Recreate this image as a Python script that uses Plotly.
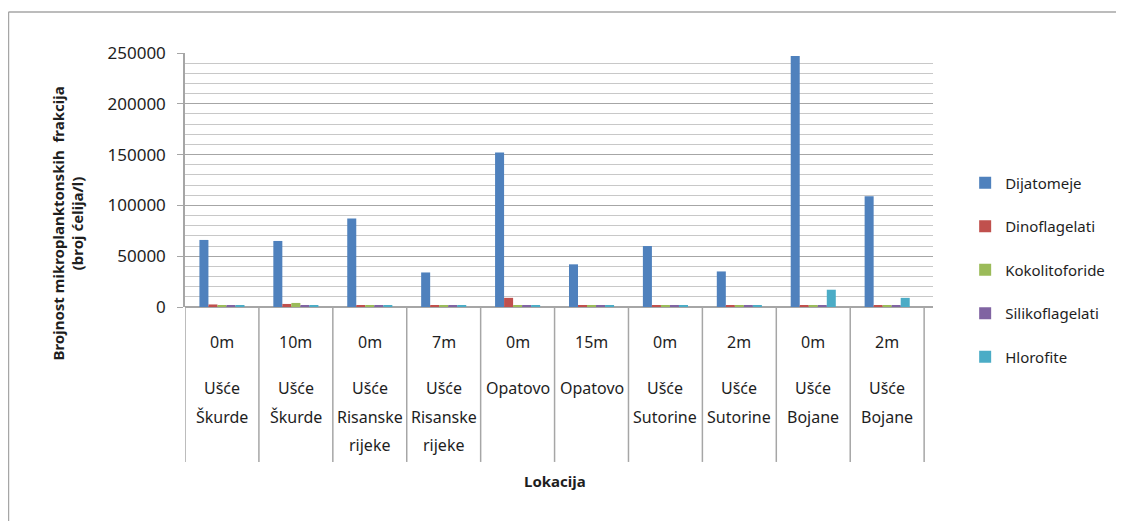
import plotly.graph_objects as go

depths = ["0m", "10m", "0m", "7m", "0m", "15m", "0m", "2m", "0m", "2m"]
locations = [["Ušće", "Škurde"], ["Ušće", "Škurde"], ["Ušće", "Risanske", "rijeke"], ["Ušće", "Risanske", "rijeke"],
             ["Opatovo"], ["Opatovo"], ["Ušće", "Sutorine"], ["Ušće", "Sutorine"], ["Ušće", "Bojane"], ["Ušće", "Bojane"]]
series_names = ["Dijatomeje", "Dinoflagelati", "Kokolitoforide", "Silikoflagelati", "Hlorofite"]
dijatomeje = [66000, 65000, 87000, 34000, 152000, 42000, 60000, 35000, 247000, 109000]
dinoflagelati = [2500, 3000, 1500, 2000, 9000, 2000, 1500, 1500, 1500, 1500]
kokolitoforide = [1500, 4000, 1000, 1500, 1500, 1500, 1500, 2000, 1500, 1500]
silikoflagelati = [1000, 1500, 1000, 1000, 1000, 1000, 1000, 1000, 1000, 1000]
hlorofite = [1000, 1500, 1000, 1000, 1000, 1000, 1000, 1000, 17000, 9000]
colors = ["#4F81BD", "#C0504D", "#9BBB59", "#8064A2", "#4BACC6"]
y_ticks = [0, 50000, 100000, 150000, 200000, 250000]

values = [dijatomeje, dinoflagelati, kokolitoforide, silikoflagelati, hlorofite]
xidx = list(range(len(depths)))
FONT = "Noto Sans"
TXT = "#1e1e1e"

fig = go.Figure()
for i, (name, vals) in enumerate(zip(series_names, values)):
    fig.add_trace(go.Bar(
        x=xidx, y=vals, name=name,
        marker=dict(color=colors[i], line=dict(width=0)),
        legendgroup=name,
    ))

# category labels: depth + location lines
line_y = [-0.3189, -0.4331, -0.5433]
for i in xidx:
    fig.add_annotation(x=i, y=-0.1378, xref="x", yref="paper", text=depths[i], showarrow=False,
                       font=dict(size=16, color=TXT, family=FONT), xanchor="center", yanchor="middle")
    for j, part in enumerate(locations[i]):
        fig.add_annotation(x=i, y=line_y[j], xref="x", yref="paper", text=part, showarrow=False,
                           font=dict(size=16, color=TXT, family=FONT), xanchor="center", yanchor="middle")

# category separators
for k in range(len(depths) + 1):
    fig.add_shape(type="line", xref="x", yref="paper", x0=k - 0.5, x1=k - 0.5,
                  y0=0, y1=-0.610, line=dict(color="#a6a6a6", width=1.5))

# outer frame (top and left edges visible)
fig.add_shape(type="line", xref="paper", yref="paper", x0=-0.236, x1=1.26, y0=1.1614, y1=1.1614,
              line=dict(color="#a6a6a6", width=1.5))
fig.add_shape(type="line", xref="paper", yref="paper", x0=-0.236, x1=-0.236, y0=1.1614, y1=-0.86,
              line=dict(color="#a6a6a6", width=1.5))

fig.add_annotation(x=0.495, y=-0.685, xref="paper", yref="paper",
                   text="<b>Lokacija</b>", showarrow=False,
                   font=dict(size=15, color=TXT, family=FONT), xanchor="center", yanchor="middle")
fig.add_annotation(x=-0.157, y=0.327, xref="paper", yref="paper",
                   text="<b>Brojnost mikroplanktonskih  frakcija<br>(broj ćelija/l)</b>", showarrow=False,
                   textangle=-90, xanchor="center", yanchor="middle",
                   font=dict(size=15, color=TXT, family=FONT))

fig.update_layout(
    width=1116, height=513,
    margin=dict(l=177, r=191, t=45, b=214, autoexpand=False),
    paper_bgcolor="white", plot_bgcolor="white",
    barmode="group", bargap=0.39, bargroupgap=0,
    font=dict(family=FONT, color=TXT),
    showlegend=True,
    legend=dict(x=1.043, y=0.146, xref="paper", yanchor="middle", xanchor="left",
                font=dict(size=15, family=FONT, color=TXT), tracegroupgap=21,
                itemwidth=30, bgcolor="rgba(0,0,0,0)"),
    xaxis=dict(range=[-0.5, 9.62], showticklabels=False, showgrid=False, zeroline=False,
               showline=False, tickvals=xidx),
    yaxis=dict(range=[0, 250000], tickvals=y_ticks, tickformat="d", showline=True, linecolor="#a6a6a6",
               linewidth=1.5,
               ticks="outside", ticklen=6, tickcolor="#a6a6a6", ticklabelstandoff=8,
               gridcolor="#a6a6a6", gridwidth=1.3,
               zeroline=True, zerolinecolor="#a6a6a6", zerolinewidth=1.5,
               tickfont=dict(size=17, family=FONT, color=TXT),
               minor=dict(dtick=10000, showgrid=True, gridcolor="#c8c8c8", gridwidth=1.3)),
)

fig.write_html("out.html")
